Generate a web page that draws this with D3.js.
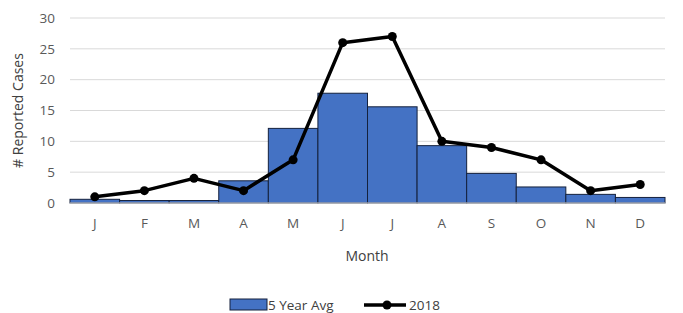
<!DOCTYPE html>
<html><head><meta charset="utf-8">
<script src="https://cdn.jsdelivr.net/npm/d3@7"></script>
<style>body{margin:0;background:#fff}svg{display:block;font-family:"Open Sans","Liberation Sans",sans-serif}</style>
</head><body><svg id="c" width="683" height="313"></svg>
<script>
const months = ["J","F","M","A","M","J","J","A","S","O","N","D"];
const avg5 = [0.6,0.4,0.4,3.6,12.1,17.8,15.6,9.3,4.8,2.6,1.4,0.9];
const cases2018 = [1,2,4,2,7,26,27,10,9,7,2,3];
const yTicks = [0,5,10,15,20,25,30];

const svg = d3.select("#c");
const m = {l:70, r:665, t:18, b:203};
const keys = months.map((d,i)=>i);
const x = d3.scaleBand().domain(keys).range([m.l,m.r]).padding(0);
const y = d3.scaleLinear().domain([0,30]).range([m.b,m.t]);

svg.append("g").selectAll("line").data(yTicks).join("line")
  .attr("x1",m.l).attr("x2",m.r).attr("y1",d=>y(d)).attr("y2",d=>y(d))
  .attr("stroke","#d9d9d9").attr("stroke-width",1);

const ya = svg.append("g").attr("transform",`translate(${m.l},0)`)
  .call(d3.axisLeft(y).tickValues(yTicks).tickSize(0).tickPadding(15));
ya.select(".domain").remove();
ya.selectAll("text").attr("font-size",13.5).attr("fill","#595959").attr("font-family","Open Sans, Liberation Sans, sans-serif");

svg.append("g").selectAll("rect").data(avg5).join("rect")
  .attr("x",(d,i)=>x(i)).attr("width",x.bandwidth())
  .attr("y",d=>y(d)).attr("height",d=>y(0)-y(d))
  .attr("fill","#4472C4").attr("stroke","#14213d").attr("stroke-width",1);

svg.append("line").attr("x1",m.l).attr("x2",m.r).attr("y1",y(0)).attr("y2",y(0)).attr("stroke","#d9d9d9");

const xa = svg.append("g").attr("transform",`translate(0,${m.b})`)
  .call(d3.axisBottom(x).tickFormat(i=>months[i]).tickSize(0).tickPadding(15));
xa.select(".domain").remove();
xa.selectAll("text").attr("font-size",13.5).attr("fill","#595959").attr("font-family","Open Sans, Liberation Sans, sans-serif");

const line = d3.line().x((d,i)=>x(i)+x.bandwidth()/2).y(d=>y(d));
svg.append("path").datum(cases2018).attr("d",line).attr("fill","none")
  .attr("stroke","#000").attr("stroke-width",3.5).attr("stroke-linejoin","round");
svg.append("g").selectAll("circle").data(cases2018).join("circle")
  .attr("cx",(d,i)=>x(i)+x.bandwidth()/2).attr("cy",d=>y(d)).attr("r",4.5).attr("fill","#000");

svg.append("text").attr("x",367).attr("y",261).attr("text-anchor","middle")
  .attr("font-size",14).attr("fill","#404040").text("Month");
svg.append("text").attr("transform",`translate(23,${(m.t+m.b)/2}) rotate(-90)`)
  .attr("text-anchor","middle").attr("font-size",14).attr("fill","#404040").text("# Reported Cases");

const lg = svg.append("g");
lg.append("rect").attr("x",230).attr("y",299).attr("width",37).attr("height",11)
  .attr("fill","#4472C4").attr("stroke","#14213d");
lg.append("text").attr("x",268).attr("y",310).attr("font-size",13.5).attr("fill","#404040").text("5 Year Avg");
lg.append("line").attr("x1",364).attr("x2",406).attr("y1",305).attr("y2",305).attr("stroke","#000").attr("stroke-width",3.5);
lg.append("circle").attr("cx",387).attr("cy",305).attr("r",4.5).attr("fill","#000");
lg.append("text").attr("x",409).attr("y",310).attr("font-size",13.5).attr("fill","#404040").text("2018");
</script></body></html>
